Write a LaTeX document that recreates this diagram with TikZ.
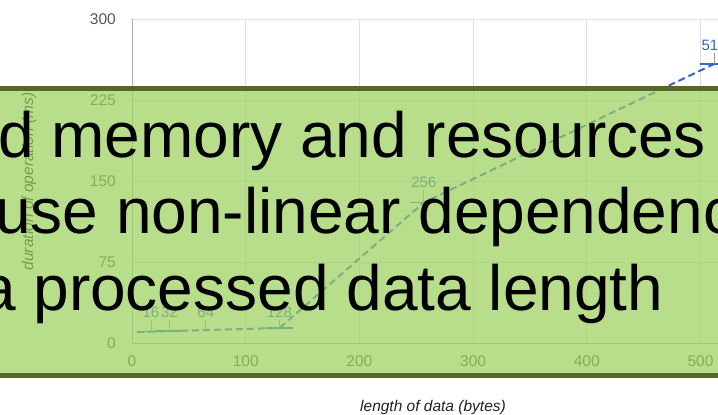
\documentclass[tikz,border=0pt]{standalone}
\usepackage{fontspec}
\setmainfont{Liberation Sans}
\definecolor{gridc}{HTML}{E0E0E0}
\definecolor{axisc}{HTML}{B0B0B0}
\definecolor{labc}{HTML}{555555}
\definecolor{titc}{HTML}{222222}
\definecolor{serc}{HTML}{3366CC}
\definecolor{stemc}{HTML}{999999}
\definecolor{ovlc}{RGB}{154,209,92}
\definecolor{bordc}{RGB}{88,102,42}
\begin{document}
\begin{tikzpicture}[x=1pt,y=-1pt,
  gridline/.style={draw=gridc, line width=1pt},
  axisline/.style={draw=axisc, line width=1pt},
  ticklab/.style={inner sep=0pt, text=labc, font=\fontsize{15.5}{18}\selectfont},
  axtitle/.style={inner sep=0pt, text=titc, font=\fontsize{15.5}{18}\selectfont\itshape},
  dlab/.style={inner sep=0pt, anchor=base, text=serc, font=\fontsize{15}{18}\selectfont},
  stem/.style={draw=stemc, line width=0.9pt},
  marker/.style={draw=serc, line width=1.6pt},
  series/.style={draw=serc, line width=2pt, dash pattern=on 7pt off 4pt},
  overlay box/.style={fill=ovlc, fill opacity=0.7, draw=bordc, draw opacity=1, line width=5pt},
  bigtext/.style={inner sep=0pt, anchor=base west, text=black, font=\fontsize{64}{76}\selectfont}]
\useasboundingbox (0,0) rectangle (718,415);
\clip (0,0) rectangle (718,415);
\fill[white] (0,0) rectangle (718,415);
% grid
\foreach \yy in {19,100,181,262} \draw[gridline] (132,\yy) -- (725,\yy);
\foreach \xx in {245.7,359.4,473.1,586.8,700.5} \draw[gridline] (\xx,19) -- (\xx,343);
\draw[axisline] (132,19) -- (132,343);
\draw[axisline] (132,343) -- (725,343);
% y tick labels
\node[ticklab, anchor=east] (y300) at (116,19) {300};
\node[ticklab, anchor=east] (y225) at (116,100) {225};
\node[ticklab, anchor=east] (y150) at (116,181) {150};
\node[ticklab, anchor=east] (y75) at (116,262) {75};
\node[ticklab, anchor=east] (y0) at (116,343) {0};
% x tick labels
\node[ticklab] (x0) at (132,361.5) {0};
\node[ticklab] (x100) at (245.7,361.5) {100};
\node[ticklab] (x200) at (359.4,361.5) {200};
\node[ticklab] (x300) at (473.1,361.5) {300};
\node[ticklab] (x400) at (586.8,361.5) {400};
\node[ticklab] (x500) at (700.5,361.5) {500};
% axis titles
\node[axtitle, rotate=90] (ytitle) at (29,181.5) {duration of operation (ms)};
\node[axtitle, anchor=base] (xtitle) at (433,411) {length of data (bytes)};
% data points
\coordinate (p4) at (137,332.3);
\coordinate (p16) at (151,331.6);
\coordinate (p32) at (169.4,331.1);
\coordinate (p64) at (205.8,330);
\coordinate (p128) at (279.5,328);
\coordinate (p256) at (423.8,202.5);
\coordinate (p512) at (714.1,64);
% markers
\draw[marker] ([xshift=-14pt]p16) -- ([xshift=13pt]p16);
\draw[marker] ([xshift=-14pt]p32) -- ([xshift=13pt]p32);
\draw[marker] ([xshift=-14pt]p128) -- ([xshift=13pt]p128);
\draw[marker] ([xshift=-14pt]p256) -- ([xshift=1pt]p256);
\draw[marker] ([xshift=-14pt]p512) -- ([xshift=13pt]p512);
% series
\draw[series] (p4) -- (p16) -- (p32) -- (p64) -- (p128) -- (p256) -- (p512);
% labels and stems
\node[dlab] (l16) at (151,317.5) {16};
\node[dlab] (l32) at (169.4,317.5) {32};
\node[dlab] (l64) at (205.8,317.5) {64};
\node[dlab] (l128) at (279.5,317.5) {128};
\node[dlab] (l256) at (423.8,187.5) {256};
\node[dlab] (l512) at (714.1,50.5) {512};
\draw[stem] (l16.south) ++(0,2) -- (p16);
\draw[stem] (l32.south) ++(0,2) -- (p32);
\draw[stem] (l64.south) ++(0,2) -- (p64);
\draw[stem] (l128.south) ++(0,2) -- (p128);
\draw[stem] (l256.south) ++(0,2) -- (p256);
\draw[stem] (l512.south) ++(0,2) -- (p512);
% overlay box
\path[overlay box] (-10,88.5) rectangle (728,375.5);
% big text
\node[bigtext] (t1) at (-2,157) {d memory and resources};
\node[bigtext] (t2) at (-5,233) {use non-linear dependenc};
\node[bigtext] (t3) at (-20,310) {a processed data length};
\end{tikzpicture}
\end{document}
